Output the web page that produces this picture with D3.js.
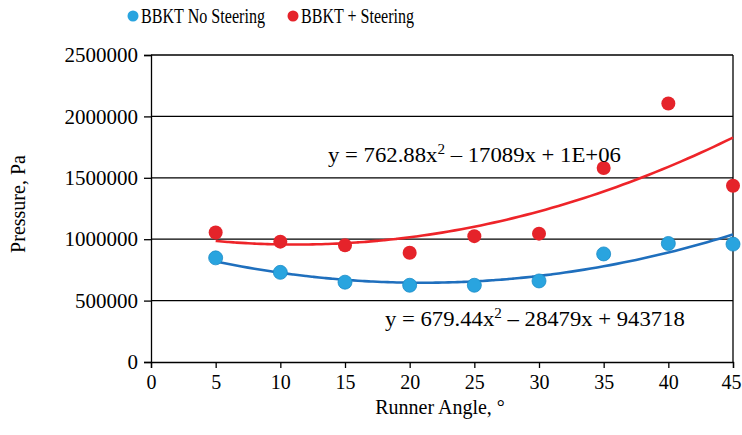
<!DOCTYPE html>
<html>
<head>
<meta charset="utf-8">
<script src="https://cdn.jsdelivr.net/npm/d3@7"></script>
<style>
  body { margin: 0; background: #fff; }
  svg text { font-family: "Liberation Serif", "Times New Roman", serif; fill: #000; }
</style>
</head>
<body>
<svg id="chart" width="742" height="435"></svg>
<script>
// Runner angle (deg) and pressure (Pa)
const angles = [5, 10, 15, 20, 25, 30, 35, 40, 45];
const noSteering = [848000, 730000, 650000, 625000, 625000, 660000, 880000, 965000, 960000];
const withSteering = [1055000, 980000, 950000, 890000, 1025000, 1045000, 1580000, 2105000, 1435000];
const yTicks = [0, 500000, 1000000, 1500000, 2000000, 2500000];
const xTicks = [0, 5, 10, 15, 20, 25, 30, 35, 40, 45];

// Polynomial trendline coefficients (a, b, c) as labelled on the chart
const fitNo = [679.44, -28479, 943718];
const fitSteer = [762.88, -17089, 1052000];

const serif = "Liberation Serif, Times New Roman, serif";
const svg = d3.select("#chart");
const margin = {top: 55, right: 9, bottom: 73, left: 151};
const width = 742 - margin.left - margin.right,
      height = 435 - margin.top - margin.bottom;

const x = d3.scaleLinear().domain([0, 45]).range([margin.left, margin.left + width]);
const y = d3.scaleLinear().domain([0, 2500000]).range([margin.top + height, margin.top]);

// gridlines
svg.append("g")
  .selectAll("line")
  .data(yTicks.slice(1))
  .enter().append("line")
  .attr("x1", x(0)).attr("x2", x(45))
  .attr("y1", d => y(d)).attr("y2", d => y(d))
  .attr("stroke", "#000").attr("stroke-width", 1.3);

// right border
svg.append("line")
  .attr("x1", x(45)).attr("x2", x(45))
  .attr("y1", y(0)).attr("y2", y(2500000))
  .attr("stroke", "#000").attr("stroke-width", 1.3);

// axes
const yAxis = svg.append("g")
  .attr("transform", "translate(" + x(0) + ",0)")
  .call(d3.axisLeft(y).tickValues(yTicks).tickFormat(d3.format("d")).tickSize(7).tickPadding(6));
const xAxis = svg.append("g")
  .attr("transform", "translate(0," + y(0) + ")")
  .call(d3.axisBottom(x).tickValues(xTicks).tickSize(6).tickPadding(7));
[yAxis, xAxis].forEach(g => {
  g.attr("font-family", serif);
  g.selectAll("path, line").attr("stroke", "#000").attr("stroke-width", 1.3);
  g.selectAll("text").attr("font-family", serif).style("font-size", "21px");
});
xAxis.selectAll("text").style("font-size", "20px");
// last label sits on the right edge of the page
xAxis.selectAll("text").filter(d => d === 45).attr("dx", -2);

// trendlines
function trend(c) {
  return d3.range(5, 45.01, 0.5).map(v => [v, c[0] * v * v + c[1] * v + c[2]]);
}
const line = d3.line().x(d => x(d[0])).y(d => y(d[1])).curve(d3.curveBasis);

svg.append("path").datum(trend(fitSteer))
  .attr("d", line).attr("fill", "none").attr("stroke", "#ee2429").attr("stroke-width", 2.6);
svg.append("path").datum(trend(fitNo))
  .attr("d", line).attr("fill", "none").attr("stroke", "#1f6fbd").attr("stroke-width", 2.6);

// points
svg.append("g").selectAll("circle")
  .data(angles.map((a, i) => [a, noSteering[i]]))
  .enter().append("circle")
  .attr("cx", d => x(d[0])).attr("cy", d => y(d[1])).attr("r", 7)
  .attr("fill", "#29a4df").attr("stroke", "#1b8cc8").attr("stroke-width", 0.8);
svg.append("g").selectAll("circle")
  .data(angles.map((a, i) => [a, withSteering[i]]))
  .enter().append("circle")
  .attr("cx", d => x(d[0])).attr("cy", d => y(d[1])).attr("r", 7)
  .attr("fill", "#e5232a");

// equations, stretched sideways to the width they take in the figure
function equation(x0, y0, coef, rest, targetWidth) {
  const t = svg.append("text").attr("font-family", serif).style("font-size", "21px");
  t.append("tspan").text("y = " + coef + "x");
  t.append("tspan").attr("dy", -8).style("font-size", "14px").text("2");
  t.append("tspan").attr("dy", 8).text(" \u2013 " + rest);
  const w = t.node().getComputedTextLength();
  t.attr("transform", "translate(" + x0 + "," + y0 + ") scale(" + (targetWidth / w) + ",1)");
}
equation(328, 162, "762.88", "17089x + 1E+06", 293);
equation(385, 326, "679.44", "28479x + 943718", 300);

// axis titles
svg.append("text")
  .attr("x", x(22.5) - 2).attr("y", 414)
  .attr("font-family", serif)
  .attr("text-anchor", "middle").style("font-size", "20px")
  .text("Runner Angle, \u00b0");
svg.append("text")
  .attr("transform", "translate(25,204) rotate(-90)")
  .attr("font-family", serif)
  .attr("text-anchor", "middle").style("font-size", "20px")
  .text("Pressure, Pa");

// legend
const legend = [
  {label: "BBKT No Steering", color: "#29a4df", x: 133, w: 124},
  {label: "BBKT + Steering", color: "#e5232a", x: 293, w: 113}
];
legend.forEach(l => {
  svg.append("circle").attr("cx", l.x).attr("cy", 16).attr("r", 5.5).attr("fill", l.color);
  svg.append("text").attr("x", l.x + 8).attr("y", 23)
    .attr("font-family", serif).style("font-size", "20px")
    .attr("textLength", l.w).attr("lengthAdjust", "spacingAndGlyphs")
    .text(l.label);
});
</script>
</body>
</html>
